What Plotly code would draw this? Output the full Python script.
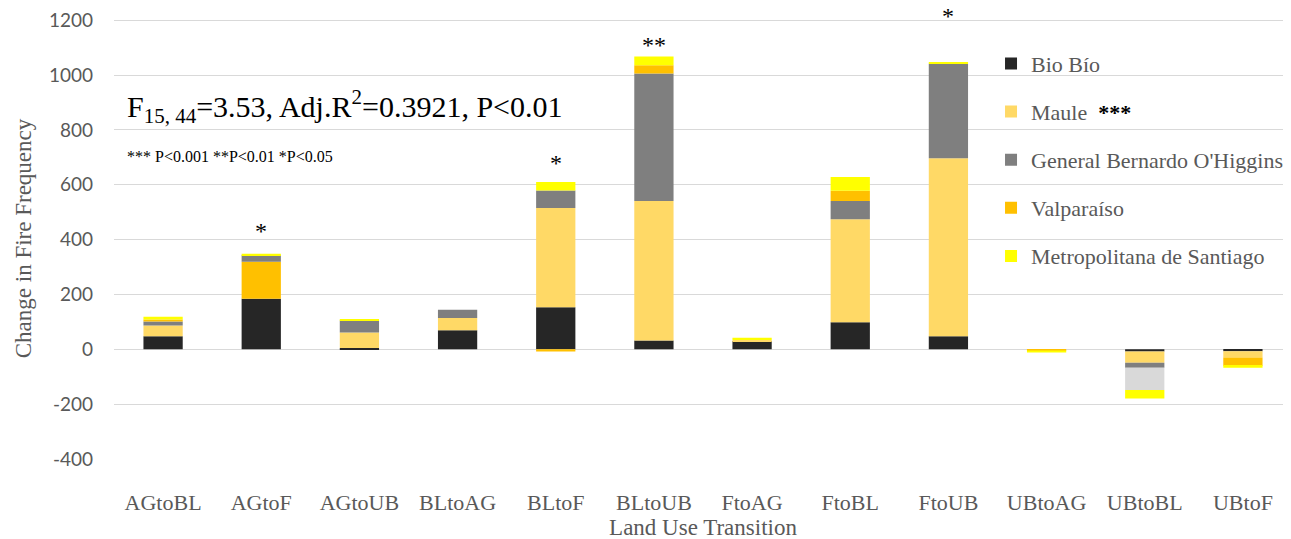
import plotly.graph_objects as go

categories = ["AGtoBL", "AGtoF", "AGtoUB", "BLtoAG", "BLtoF", "BLtoUB",
              "FtoAG", "FtoBL", "FtoUB", "UBtoAG", "UBtoBL", "UBtoF"]

bio_bio = [48, 184, 5, 69, 153, 32, 30, 99, 48, 0, -8, -7]
maule = [39, 135, 56, 45, 362, 509, 4, 375, 649, 0, -41, -23]
ohiggins = [14, 24, 44, 30, 64, 465, 0, 67, 344, 0, -18, 0]
valparaiso = [8, 0, 0, 0, -8, 30, 0, 37, 0, -4, -81, -30]
metropolitana = [10, 5, 4, 0, 31, 32, 8, 50, 4, -8, -31, -7]

y_tick_values = [-400, -200, 0, 200, 400, 600, 800, 1000, 1200]
y_tick_labels = ["-400", "-200", "0", "200", "400", "600", "800", "1000", "1200"]

series_names = ["Bio Bío", "Maule  <span style='color:#000000'><b>***</b></span>",
                "General Bernardo O'Higgins", "Valparaíso", "Metropolitana de Santiago"]
series_values = [bio_bio, maule, ohiggins, valparaiso, metropolitana]
series_colors = ["#262626",
                 ["#FFD966", "#FFC000"] + ["#FFD966"] * 10,
                 "#7F7F7F",
                 ["#FFC000"] * 10 + ["#D9D9D9", "#FFC000"],
                 "#FFFF00"]
legend_colors = ["#262626", "#FFD966", "#7F7F7F", "#FFC000", "#FFFF00"]

# significance markers: (category, y position, text)
sig_cats = ["AGtoF", "BLtoF", "BLtoUB", "FtoUB"]
sig_y = [430, 680, 1110, 1215]
sig_text = ["*", "*", "**", "*"]

Y_MIN, Y_MAX = -400, 1200
PAD = 8  # extra units above the top so the top gridline is kept
PX_PER_UNIT = 439 / (Y_MAX - Y_MIN)

fig = go.Figure()
for i, (name, vals, col) in enumerate(zip(series_names, series_values, series_colors)):
    fig.add_trace(go.Bar(
        x=categories, y=vals, name=name,
        marker=dict(color=col, line=dict(width=0)),
        legendgroup=f"g{i}", showlegend=False,
    ))
# legend entries with uniform colours
for i, (name, col) in enumerate(zip(series_names, legend_colors)):
    fig.add_trace(go.Bar(
        x=[categories[0]], y=[None], name=name,
        marker=dict(color=col, line=dict(width=0)),
        legendgroup=f"g{i}", showlegend=True, hoverinfo="skip",
    ))

serif = "Liberation Serif, Times New Roman, serif"
gray = "#595959"

for c, y, t in zip(sig_cats, sig_y, sig_text):
    yy = min(y, Y_MAX)
    fig.add_annotation(x=c, y=yy, yshift=(y - yy) * PX_PER_UNIT, text=t,
                       showarrow=False, xref="x", yref="y",
                       font=dict(family=serif, size=24, color="#000000"))

fig.add_annotation(x=0.009, y=0.80, xref="paper", yref="paper", xanchor="left",
                   yanchor="middle", showarrow=False,
                   text="F<sub>15, 44</sub>=3.53, Adj.R<sup>2</sup>=0.3921, P&lt;0.01",
                   font=dict(family=serif, size=30, color="#000000"))
fig.add_annotation(x=0.009, y=0.686, xref="paper", yref="paper", xanchor="left",
                   yanchor="middle", showarrow=False,
                   text="*** P&lt;0.001 **P&lt;0.01 *P&lt;0.05",
                   font=dict(family=serif, size=16, color="#000000"))

top_margin = 12 - PAD * PX_PER_UNIT

fig.update_layout(
    width=1291, height=539,
    margin=dict(l=106, r=7, t=top_margin, b=88),
    barmode="relative", bargap=0.6,
    plot_bgcolor="white", paper_bgcolor="white",
    legend=dict(x=0.7445, y=0.944, xanchor="left", yanchor="top",
                font=dict(family=serif, size=22, color=gray),
                tracegroupgap=16.5, bgcolor="rgba(0,0,0,0)", traceorder="grouped"),
    xaxis=dict(showgrid=False, showline=False, ticks="", automargin=False,
               tickfont=dict(family=serif, size=22, color=gray),
               ticklabelstandoff=28,
               title=dict(text="Land Use Transition", standoff=2,
                          font=dict(family=serif, size=23, color=gray))),
    yaxis=dict(range=[Y_MIN, Y_MAX + PAD], tickvals=y_tick_values,
               ticktext=y_tick_labels, ticklabeloverflow="allow",
               showgrid=True, gridcolor="#D9D9D9",
               gridwidth=1, zeroline=True, zerolinecolor="#D9D9D9", zerolinewidth=1,
               showline=False, ticks="", automargin=False,
               tickfont=dict(family="Lato, Carlito, sans-serif", size=19, color=gray),
               ticklabelstandoff=20,
               title=dict(text="Change in Fire Frequency", standoff=10,
                          font=dict(family=serif, size=23, color=gray))),
)

fig.write_html("out.html")
